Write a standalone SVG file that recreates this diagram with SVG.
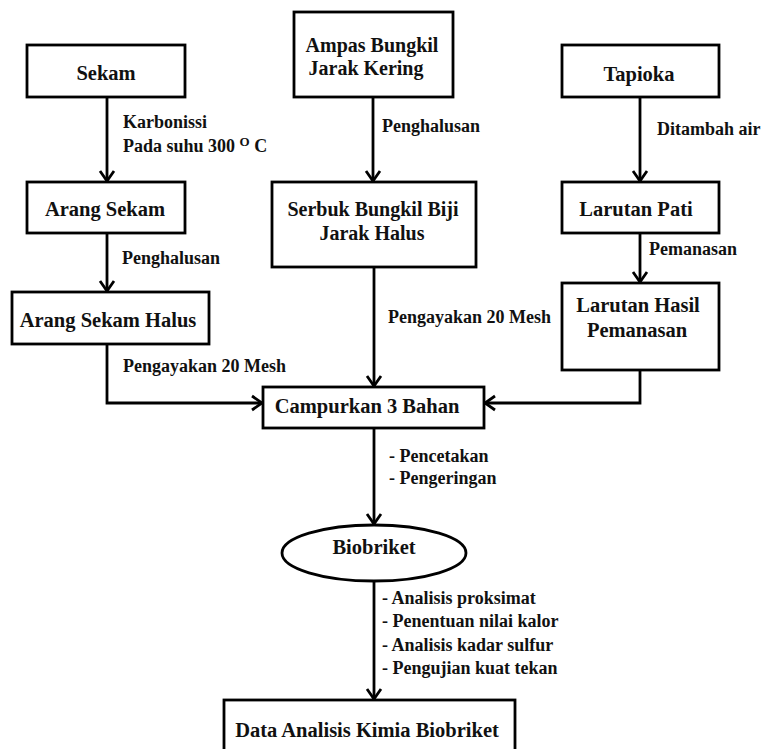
<svg xmlns="http://www.w3.org/2000/svg" width="766" height="749" viewBox="0 0 766 749">
<defs>
<marker id="ah" markerUnits="userSpaceOnUse" viewBox="-12 -9 14 18" refX="0" refY="0" markerWidth="14" markerHeight="18" orient="auto">
<path d="M-10,-7 L0,0 L-10,7" fill="none" stroke="#000" stroke-width="2.8"/>
</marker>
</defs>
<rect width="766" height="749" fill="#fff"/>
<g id="connectors" fill="none" stroke="#000" stroke-width="2.8">
<path d="M107,97 V181" marker-end="url(#ah)"/>
<path d="M373,97 V181" marker-end="url(#ah)"/>
<path d="M640,97 V181" marker-end="url(#ah)"/>
<path d="M107,233 V291" marker-end="url(#ah)"/>
<path d="M640,233 V282" marker-end="url(#ah)"/>
<path d="M107,344 V403 H262" marker-end="url(#ah)"/>
<path d="M640,370 V403 H485" marker-end="url(#ah)"/>
<path d="M374,267 V386" marker-end="url(#ah)"/>
<path d="M374,428 V524" marker-end="url(#ah)"/>
<path d="M374,582 V699" marker-end="url(#ah)"/>
</g>
<g id="labels" fill="#111" stroke="none">
<text style="font-family:'Times New Roman','Liberation Serif',serif;font-weight:bold;font-size:18px" x="123" y="128">Karbonissi</text>
<text style="font-family:'Times New Roman','Liberation Serif',serif;font-weight:bold;font-size:18px" x="123" y="152">Pada suhu 300 <tspan dy="-6" style="font-size:13px">O</tspan><tspan dy="6"> C</tspan></text>
<text style="font-family:'Times New Roman','Liberation Serif',serif;font-weight:bold;font-size:18px" x="382" y="132">Penghalusan</text>
<text style="font-family:'Times New Roman','Liberation Serif',serif;font-weight:bold;font-size:18px" x="657" y="135">Ditambah air</text>
<text style="font-family:'Times New Roman','Liberation Serif',serif;font-weight:bold;font-size:18px" x="122" y="264">Penghalusan</text>
<text style="font-family:'Times New Roman','Liberation Serif',serif;font-weight:bold;font-size:18px" x="649" y="255">Pemanasan</text>
<text style="font-family:'Times New Roman','Liberation Serif',serif;font-weight:bold;font-size:18px" x="123" y="372">Pengayakan 20 Mesh</text>
<text style="font-family:'Times New Roman','Liberation Serif',serif;font-weight:bold;font-size:18px" x="388" y="323">Pengayakan 20 Mesh</text>
<text style="font-family:'Times New Roman','Liberation Serif',serif;font-weight:bold;font-size:18px" x="389" y="462">- Pencetakan</text>
<text style="font-family:'Times New Roman','Liberation Serif',serif;font-weight:bold;font-size:18px" x="389" y="484">- Pengeringan</text>
<text style="font-family:'Times New Roman','Liberation Serif',serif;font-weight:bold;font-size:18px" x="382" y="604">- Analisis proksimat</text>
<text style="font-family:'Times New Roman','Liberation Serif',serif;font-weight:bold;font-size:18px" x="382" y="627">- Penentuan nilai kalor</text>
<text style="font-family:'Times New Roman','Liberation Serif',serif;font-weight:bold;font-size:18px" x="382" y="651">- Analisis kadar sulfur</text>
<text style="font-family:'Times New Roman','Liberation Serif',serif;font-weight:bold;font-size:18px" x="382" y="674">- Pengujian kuat tekan</text>
</g>
<g id="sekam"><rect fill="#fff" stroke="#000" stroke-width="2.8" x="27" y="45" width="158" height="52"/><text style="font-family:'Times New Roman','Liberation Serif',serif;font-weight:bold;font-size:20.5px;text-anchor:middle" fill="#111" x="106" y="80">Sekam</text></g>
<g id="ampas"><rect fill="#fff" stroke="#000" stroke-width="2.8" x="294" y="12" width="159" height="85"/><text style="font-family:'Times New Roman','Liberation Serif',serif;font-weight:bold;font-size:20px;text-anchor:middle" fill="#111" x="372" y="52">Ampas Bungkil</text><text style="font-family:'Times New Roman','Liberation Serif',serif;font-weight:bold;font-size:20px;text-anchor:middle" fill="#111" x="366" y="75">Jarak Kering</text></g>
<g id="tapioka"><rect fill="#fff" stroke="#000" stroke-width="2.8" x="562" y="45" width="157" height="52"/><text style="font-family:'Times New Roman','Liberation Serif',serif;font-weight:bold;font-size:20.5px;text-anchor:middle" fill="#111" x="639" y="81">Tapioka</text></g>
<g id="arang-sekam"><rect fill="#fff" stroke="#000" stroke-width="2.8" x="27" y="182" width="158" height="51"/><text style="font-family:'Times New Roman','Liberation Serif',serif;font-weight:bold;font-size:20.5px;text-anchor:middle" fill="#111" x="105" y="216">Arang Sekam</text></g>
<g id="serbuk"><rect fill="#fff" stroke="#000" stroke-width="2.8" x="272" y="182" width="204" height="85"/><text style="font-family:'Times New Roman','Liberation Serif',serif;font-weight:bold;font-size:20px;text-anchor:middle" fill="#111" x="373" y="216">Serbuk Bungkil Biji</text><text style="font-family:'Times New Roman','Liberation Serif',serif;font-weight:bold;font-size:20px;text-anchor:middle" fill="#111" x="372" y="240">Jarak Halus</text></g>
<g id="larutan-pati"><rect fill="#fff" stroke="#000" stroke-width="2.8" x="562" y="182" width="157" height="51"/><text style="font-family:'Times New Roman','Liberation Serif',serif;font-weight:bold;font-size:20.5px;text-anchor:middle" fill="#111" x="636" y="216">Larutan Pati</text></g>
<g id="arang-halus"><rect fill="#fff" stroke="#000" stroke-width="2.8" x="12" y="292" width="197" height="52"/><text style="font-family:'Times New Roman','Liberation Serif',serif;font-weight:bold;font-size:20.5px;text-anchor:middle" fill="#111" x="108" y="327">Arang Sekam Halus</text></g>
<g id="larutan-hasil"><rect fill="#fff" stroke="#000" stroke-width="2.8" x="562" y="283" width="157" height="87"/><text style="font-family:'Times New Roman','Liberation Serif',serif;font-weight:bold;font-size:20.5px;text-anchor:middle" fill="#111" x="638" y="312">Larutan Hasil</text><text style="font-family:'Times New Roman','Liberation Serif',serif;font-weight:bold;font-size:20.5px;text-anchor:middle" fill="#111" x="637" y="337">Pemanasan</text></g>
<g id="campur"><rect fill="#fff" stroke="#000" stroke-width="2.8" x="263" y="387" width="221" height="41"/><text style="font-family:'Times New Roman','Liberation Serif',serif;font-weight:bold;font-size:20.5px;text-anchor:middle" fill="#111" x="367" y="413">Campurkan 3 Bahan</text></g>
<g id="biobriket"><ellipse fill="#fff" stroke="#000" stroke-width="2.8" cx="374" cy="553" rx="92" ry="28"/><text style="font-family:'Times New Roman','Liberation Serif',serif;font-weight:bold;font-size:20.5px;text-anchor:middle" fill="#111" x="374" y="554">Biobriket</text></g>
<g id="data"><rect fill="#fff" stroke="#000" stroke-width="2.8" x="224" y="700" width="291" height="70"/><text style="font-family:'Times New Roman','Liberation Serif',serif;font-weight:bold;font-size:20.5px;text-anchor:middle" fill="#111" x="367" y="737">Data Analisis Kimia Biobriket</text></g>
</svg>
